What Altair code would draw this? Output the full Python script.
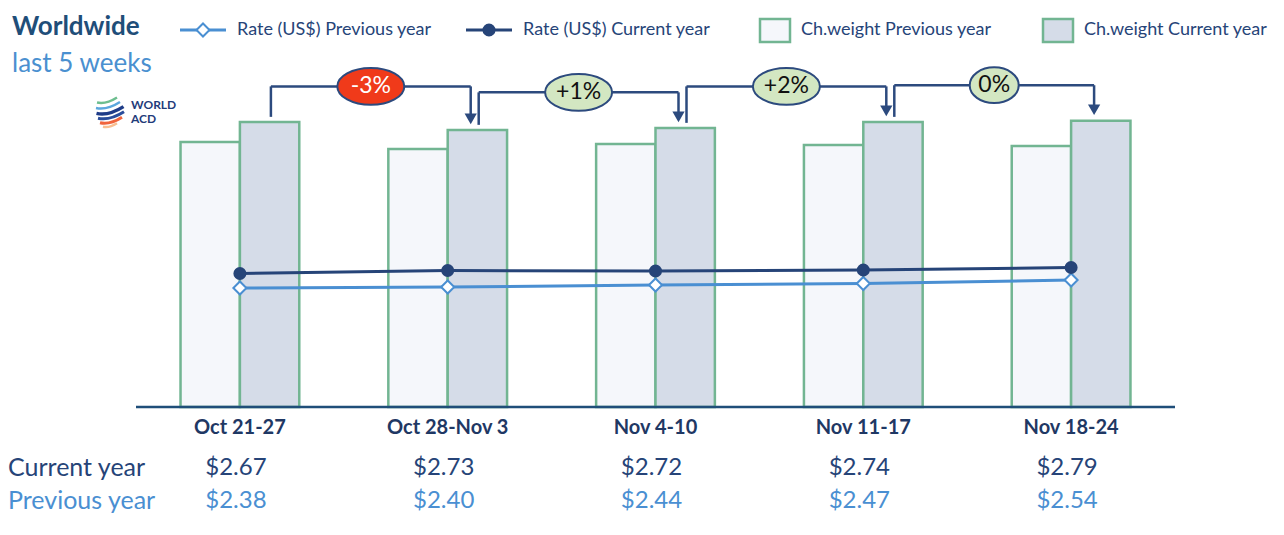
import altair as alt
import pandas as pd

# ---------------- data ----------------
weeks = ["Oct 21-27", "Oct 28-Nov 3", "Nov 4-10", "Nov 11-17", "Nov 18-24"]
rate_current = [2.67, 2.73, 2.72, 2.74, 2.79]
rate_previous = [2.38, 2.40, 2.44, 2.47, 2.54]
# chargeable weight as an index (current year, Oct 21-27 = 100)
weight_previous = [93.0, 90.5, 92.3, 91.9, 91.6]
weight_current = [100.0, 97.2, 97.9, 100.0, 100.4]
series_names = ["Previous year", "Current year"]
legend_labels = ["Rate (US$) Previous year", "Rate (US$) Current year",
                 "Ch.weight Previous year", "Ch.weight Current year"]
title_text = "Worldwide"
subtitle_text = "last 5 weeks"
row_labels = ["Current year", "Previous year"]
logo_words = ["WORLD", "ACD"]

# ---------------- styles ----------------
FONT = "Lato"
NAVY = "#264478"
TITLE_NAVY = "#1F4E79"
LIGHT_BLUE = "#4A8FD2"
GREEN = "#72B592"
PREV_FILL = "#F5F7FB"
CURR_FILL = "#D5DCE8"
ARROW = "#2C4A7E"
RED = "#F03A1A"
PALE_GREEN = "#D3E7C2"

W, H = 1268, 519
BASE = 399
x_scale = alt.Scale(domain=weeks, range=[128, 1167], paddingInner=0, paddingOuter=0)
w_scale = alt.Scale(domain=[0, 140], range=[BASE, 0])
r_scale = alt.Scale(domain=[0, 7.98], range=[BASE, 0])

one = pd.DataFrame({"k": [0]})

# ---------------- tables ----------------
bars = pd.DataFrame({
    "week": weeks * 2,
    "series": [series_names[0]] * 5 + [series_names[1]] * 5,
    "weight": weight_previous + weight_current,
})
rates = pd.DataFrame({
    "week": weeks * 2,
    "series": [series_names[1]] * 5 + [series_names[0]] * 5,
    "rate": rate_current + rate_previous,
})

GAP = 1.8
LIFT = 12.5
rows = []
for i in range(len(weeks) - 1):
    a, b = weight_current[i], weight_current[i + 1]
    pct = round((b / a - 1) * 100)
    label = "0%" if pct == 0 else f"{pct:+d}%"
    rows.append({
        "week_a": weeks[i], "week_b": weeks[i + 1],
        "start": a + GAP, "level": max(a, b) + LIFT,
        "tip": b + GAP, "tipline": b + GAP + 3,
        "label": label,
        "fill": RED if pct < 0 else PALE_GREEN,
        "tcolor": "white" if pct < 0 else "#111111",
        "kind": "wide" if len(label) >= 3 else "narrow",
        "sz": 4489 if len(label) >= 3 else 2401,
    })
ann = pd.DataFrame(rows)


def ellipse(k):
    c = 0.5523
    return (f"M -1 0 C -1 {-c*k:.3f} {-c:.3f} {-k:.3f} 0 {-k:.3f} "
            f"C {c:.3f} {-k:.3f} 1 {-c*k:.3f} 1 0 "
            f"C 1 {c*k:.3f} {c:.3f} {k:.3f} 0 {k:.3f} "
            f"C {-c:.3f} {k:.3f} -1 {c*k:.3f} -1 0 Z")


X = lambda f, bp=0.5: alt.X(f, type="nominal", scale=x_scale, axis=None, bandPosition=bp)

layers = []

# bars
layers.append(
    alt.Chart(bars).mark_bar(stroke=GREEN, strokeWidth=2.5).encode(
        x=alt.X("week:N", scale=x_scale, axis=None, sort=weeks),
        xOffset=alt.XOffset("series:N", scale=alt.Scale(domain=series_names, paddingInner=0, paddingOuter=0.75)),
        y=alt.Y("weight:Q", scale=w_scale, axis=None),
        fill=alt.Fill("series:N", scale=alt.Scale(domain=series_names, range=[PREV_FILL, CURR_FILL]), legend=None),
    )
)

# baseline
layers.append(
    alt.Chart(one).mark_rule(color=TITLE_NAVY, strokeWidth=2.5).encode(
        x=alt.value(128), x2=alt.value(1167),
        y=alt.Y("z:Q", scale=w_scale, axis=None),
    ).transform_calculate(z="0")
)

# rate lines
prev_rates = rates[rates.series == series_names[0]]
curr_rates = rates[rates.series == series_names[1]]
layers.append(
    alt.Chart(prev_rates).mark_line(color=LIGHT_BLUE, strokeWidth=3).encode(
        x=X("week"), y=alt.Y("rate:Q", scale=r_scale, axis=None))
)
layers.append(
    alt.Chart(curr_rates).mark_line(color=NAVY, strokeWidth=3).encode(
        x=X("week"), y=alt.Y("rate:Q", scale=r_scale, axis=None))
)
layers.append(
    alt.Chart(prev_rates).mark_point(shape="diamond", filled=True, fill="white", stroke=LIGHT_BLUE,
                                     strokeWidth=2, size=170, opacity=1).encode(
        x=X("week"), y=alt.Y("rate:Q", scale=r_scale, axis=None))
)
layers.append(
    alt.Chart(curr_rates).mark_point(shape="circle", filled=True, color=NAVY, size=170, opacity=1).encode(
        x=X("week"), y=alt.Y("rate:Q", scale=r_scale, axis=None))
)

# change annotations
layers.append(
    alt.Chart(ann).mark_rule(color=ARROW, strokeWidth=2.5, xOffset=31).encode(
        x=X("week_a"), y=alt.Y("start:Q", scale=w_scale, axis=None), y2="level:Q")
)
layers.append(
    alt.Chart(ann).mark_rule(color=ARROW, strokeWidth=2.5, xOffset=31, x2Offset=23).encode(
        x=X("week_a"), x2=alt.X2("week_b", bandPosition=0.5),
        y=alt.Y("level:Q", scale=w_scale, axis=None))
)
layers.append(
    alt.Chart(ann).mark_rule(color=ARROW, strokeWidth=2.5, xOffset=23).encode(
        x=X("week_b"), y=alt.Y("level:Q", scale=w_scale, axis=None), y2="tipline:Q")
)
layers.append(
    alt.Chart(ann).mark_point(shape="triangle-down", filled=True, color=ARROW, size=150,
                              opacity=1, xOffset=23, yOffset=-6).encode(
        x=X("week_b"), y=alt.Y("tip:Q", scale=w_scale, axis=None))
)
layers.append(
    alt.Chart(ann).mark_point(filled=True, stroke=ARROW, strokeWidth=2, opacity=1, xOffset=27).encode(
        x=X("week_a", 1), y=alt.Y("level:Q", scale=w_scale, axis=None),
        shape=alt.Shape("kind:N", scale=alt.Scale(domain=["wide", "narrow"],
                                                  range=[ellipse(0.55), ellipse(0.73)]), legend=None),
        size=alt.Size("sz:Q", scale=None),
        fill=alt.Fill("fill:N", scale=None),
    )
)
layers.append(
    alt.Chart(ann).mark_text(font=FONT, fontSize=23, xOffset=27, baseline="middle", align="center").encode(
        x=X("week_a", 1), y=alt.Y("level:Q", scale=w_scale, axis=None),
        text="label:N", color=alt.Color("tcolor:N", scale=None))
)

# category labels
cat = pd.DataFrame({"week": weeks})
layers.append(
    alt.Chart(cat).mark_text(font=FONT, fontSize=20, fontWeight="bold", color="#1F3864",
                             baseline="middle").encode(
        x=X("week"), y=alt.value(420), text="week:N")
)

# table of rates
tab = pd.DataFrame({
    "week": weeks * 2,
    "row": [row_labels[0]] * 5 + [row_labels[1]] * 5,
    "txt": [f"${v:.2f}" for v in rate_current] + [f"${v:.2f}" for v in rate_previous],
})
for r, yy, col in [(row_labels[0], 460, NAVY), (row_labels[1], 493, LIGHT_BLUE)]:
    layers.append(
        alt.Chart(tab[tab.row == r]).mark_text(font=FONT, fontSize=24, color=col, baseline="middle",
                                               xOffset=-4).encode(
            x=X("week"), y=alt.value(yy), text="txt:N")
    )
    layers.append(
        alt.Chart(one).mark_text(font=FONT, fontSize=25, color=col, baseline="middle", align="left").encode(
            x=alt.value(0), y=alt.value(yy), text=alt.value(r))
    )

# titles
layers.append(alt.Chart(one).mark_text(font=FONT, fontSize=26, fontWeight="bold", color=TITLE_NAVY,
                                       align="left", baseline="alphabetic").encode(
    x=alt.value(4), y=alt.value(27), text=alt.value(title_text)))
layers.append(alt.Chart(one).mark_text(font=FONT, fontSize=26, color="#4A90D0",
                                       align="left", baseline="alphabetic").encode(
    x=alt.value(4), y=alt.value(64), text=alt.value(subtitle_text)))

# legend
LY = 22
leg_text_x = [229, 515, 793, 1076]
for lab, tx in zip(legend_labels, leg_text_x):
    layers.append(alt.Chart(one).mark_text(font=FONT, fontSize=18, color=NAVY, align="left",
                                           baseline="middle").encode(
        x=alt.value(tx), y=alt.value(LY), text=alt.value(lab)))
layers.append(alt.Chart(one).mark_rule(color=LIGHT_BLUE, strokeWidth=3).encode(
    x=alt.value(172), x2=alt.value(218), y=alt.value(LY)))
layers.append(alt.Chart(one).mark_point(shape="diamond", filled=True, fill="white", stroke=LIGHT_BLUE,
                                        strokeWidth=2, size=170, opacity=1).encode(
    x=alt.value(195), y=alt.value(LY)))
layers.append(alt.Chart(one).mark_rule(color=NAVY, strokeWidth=3).encode(
    x=alt.value(458), x2=alt.value(504), y=alt.value(LY)))
layers.append(alt.Chart(one).mark_point(shape="circle", filled=True, color=NAVY, size=170, opacity=1).encode(
    x=alt.value(481), y=alt.value(LY)))
for x0, fillc in [(752, PREV_FILL), (1035, CURR_FILL)]:
    layers.append(alt.Chart(one).mark_rect(fill=fillc, stroke=GREEN, strokeWidth=2.5).encode(
        x=alt.value(x0), x2=alt.value(x0 + 30), y=alt.value(LY - 11), y2=alt.value(LY + 12)))

# logo
swoosh = "M -1 0.25 Q -0.1 0.45 1 -0.25"
logo_strokes = [("#6DBE8F", 92, 99, 2.5, 20), ("#5AA7DD", 97, 100, 2.5, 24), ("#1F3C88", 102, 102, 3.5, 27),
                ("#2A4D9B", 107, 103, 3, 26), ("#F0643C", 112, 103, 3, 22), ("#F8BE90", 117, 102, 2.5, 14)]
for c, yy, xx, sw, wd in logo_strokes:
    layers.append(alt.Chart(one).mark_point(shape=swoosh, filled=False, stroke=c, strokeWidth=sw,
                                            size=wd * wd, opacity=1).encode(
        x=alt.value(xx), y=alt.value(yy)))
for word, yy in zip(logo_words, [97, 111]):
    layers.append(alt.Chart(one).mark_text(font=FONT, fontSize=12, fontWeight="bold", color="#1F3C7A",
                                           align="left", baseline="middle").encode(
        x=alt.value(123), y=alt.value(yy), text=alt.value(word)))

chart = alt.layer(*layers).resolve_scale(y="independent").properties(
    width=W, height=H, padding=0, autosize=alt.AutoSizeParams(type="none"), background="white"
).configure_view(stroke=None)

chart.save("out.html", embed_options={"renderer": "svg", "actions": False})
